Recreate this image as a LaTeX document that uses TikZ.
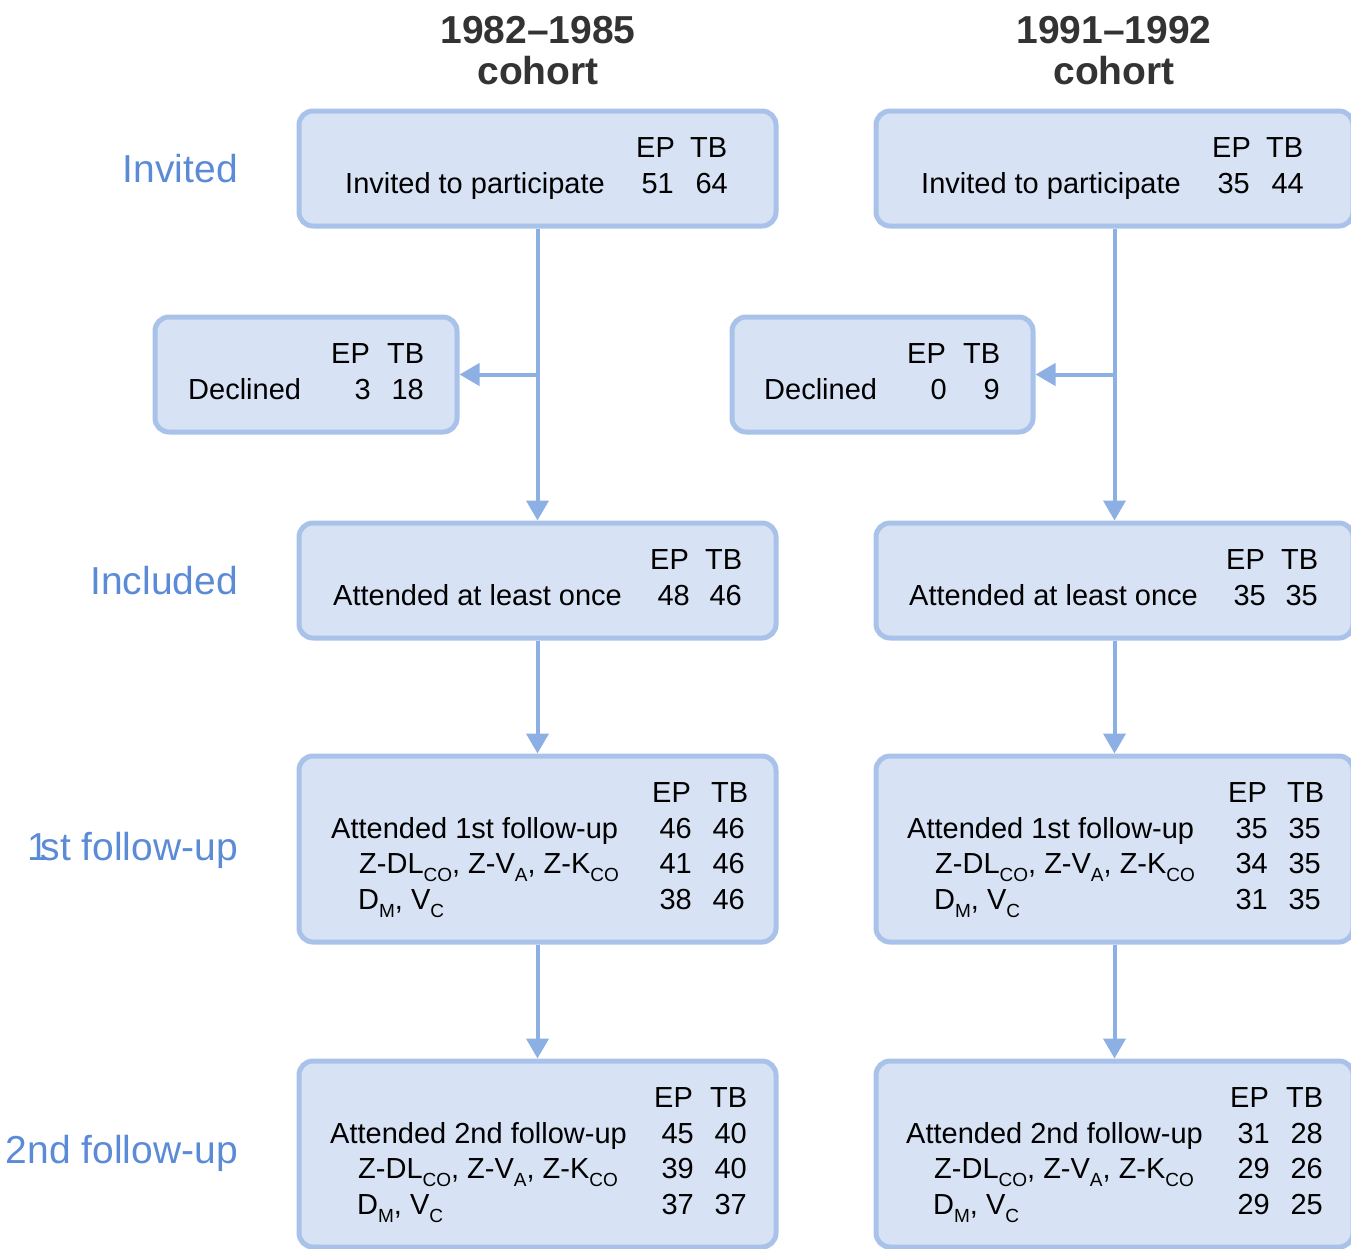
\documentclass[tikz,border=0pt]{standalone}
\usepackage{fontspec}
\setmainfont{Liberation Sans}
\usetikzlibrary{arrows.meta}
\definecolor{boxfill}{HTML}{D7E2F4}
\definecolor{boxline}{HTML}{A9C2E9}
\definecolor{arrcol}{HTML}{8DB0E4}
\definecolor{lblcol}{HTML}{5B8BD7}
\definecolor{ttlcol}{HTML}{333333}
\newcommand{\sbs}[1]{\raisebox{-8pt}{\fontsize{19}{19}\selectfont #1}}
\newcommand{\zrow}{Z-DL\sbs{CO}, Z-V\sbs{A}, Z-K\sbs{CO}}
\newcommand{\drow}{D\sbs{M}, V\sbs{C}}
\begin{document}
\begin{tikzpicture}[x=1pt,y=-1pt,
 box/.style={draw=boxline, fill=boxfill, line width=5pt, rounded corners=14pt, inner sep=0pt},
 arr/.style={draw=arrcol, line width=4pt, -{Triangle[length=20pt,width=22pt]}},
 txt/.style={font=\fontsize{29}{34}\selectfont, inner sep=0pt, text=black},
 tl/.style={txt, anchor=base west},
 tr/.style={txt, anchor=base east},
 lbl/.style={font=\fontsize{39}{46}\selectfont, text=lblcol, inner sep=0pt, anchor=base east},
 ttl/.style={font=\bfseries\fontsize{39}{46}\selectfont, text=ttlcol, inner sep=0pt, anchor=base},
 ]
\useasboundingbox (0,0) rectangle (1351,1248);

% titles
\node[ttl] (t1a) at (538,43) {1982--1985};
\node[ttl] (t1b) at (538,84) {cohort};
\node[ttl] (t2a) at (1114,43) {1991--1992};
\node[ttl] (t2b) at (1114,84) {cohort};

% side labels
\node[lbl] (l1) at (238,182) {Invited};
\node[lbl] (l2) at (238,594) {Included};
\node[lbl] (l3) at (238,860) {1\kern-9pt st follow-up};
\node[lbl] (l4) at (238,1163) {2nd follow-up};

% boxes
\node[box, minimum width=477pt, minimum height=115pt] (inv1) at (537.5,168.5) {};
\node[box, minimum width=477pt, minimum height=115pt] (inv2) at (1114.5,168.5) {};
\node[box, minimum width=302pt, minimum height=115pt] (dec1) at (306,374.5) {};
\node[box, minimum width=301pt, minimum height=115pt] (dec2) at (882.5,374.5) {};
\node[box, minimum width=477pt, minimum height=115pt] (inc1) at (537.5,580.5) {};
\node[box, minimum width=477pt, minimum height=115pt] (inc2) at (1114.5,580.5) {};
\node[box, minimum width=477pt, minimum height=186pt] (fu1) at (537.5,849) {};
\node[box, minimum width=477pt, minimum height=186pt] (fu2) at (1114.5,849) {};
\node[box, minimum width=477pt, minimum height=186pt] (sf1) at (537.5,1154) {};
\node[box, minimum width=477pt, minimum height=186pt] (sf2) at (1114.5,1154) {};

% connectors
\draw[arr] (inv1.south) -- (inc1.north);
\draw[arr] (inv2.south) -- (inc2.north);
\draw[arr] (inv1.south |- dec1.east) -- (dec1.east);
\draw[arr] (inv2.south |- dec2.east) -- (dec2.east);
\draw[arr] (inc1.south) -- (fu1.north);
\draw[arr] (inc2.south) -- (fu2.north);
\draw[arr] (fu1.south) -- (sf1.north);
\draw[arr] (fu2.south) -- (sf2.north);

% invited left
\node[tl] (a1) at (636,157) {EP};
\node[tl] (a2) at (690,157) {TB};
\node[tl] (a3) at (345,193) {Invited to participate};
\node[tr] (a4) at (674,193) {51};
\node[tr] (a5) at (728,193) {64};
% invited right
\node[tl] (b1) at (1212,157) {EP};
\node[tl] (b2) at (1266,157) {TB};
\node[tl] (b3) at (921,193) {Invited to participate};
\node[tr] (b4) at (1250,193) {35};
\node[tr] (b5) at (1304,193) {44};

% declined left
\node[tl] (c1) at (331,363) {EP};
\node[tl] (c2) at (387,363) {TB};
\node[tl] (c3) at (188,399) {Declined};
\node[tr] (c4) at (371,399) {3};
\node[tr] (c5) at (424,399) {18};
% declined right
\node[tl] (d1) at (907,363) {EP};
\node[tl] (d2) at (963,363) {TB};
\node[tl] (d3) at (764,399) {Declined};
\node[tr] (d4) at (947,399) {0};
\node[tr] (d5) at (1000,399) {9};

% included left
\node[tl] (e1) at (650,569) {EP};
\node[tl] (e2) at (705,569) {TB};
\node[tl] (e3) at (333,605) {Attended at least once};
\node[tr] (e4) at (690,605) {48};
\node[tr] (e5) at (742,605) {46};
% included right
\node[tl] (f1) at (1226,569) {EP};
\node[tl] (f2) at (1281,569) {TB};
\node[tl] (f3) at (909,605) {Attended at least once};
\node[tr] (f4) at (1266,605) {35};
\node[tr] (f5) at (1318,605) {35};

% 1st follow-up left
\node[tl] (g1) at (652,802) {EP};
\node[tl] (g2) at (711,802) {TB};
\node[tl] (g3) at (331,838) {Attended 1st follow-up};
\node[tr] (g4) at (692,838) {46};
\node[tr] (g5) at (745,838) {46};
\node[tl] (g6) at (359,873.5) {\zrow};
\node[tr] (g7) at (692,873.5) {41};
\node[tr] (g8) at (745,873.5) {46};
\node[tl] (g9) at (358,909) {\drow};
\node[tr] (g10) at (692,909) {38};
\node[tr] (g11) at (745,909) {46};
% 1st follow-up right
\node[tl] (h1) at (1228,802) {EP};
\node[tl] (h2) at (1287,802) {TB};
\node[tl] (h3) at (907,838) {Attended 1st follow-up};
\node[tr] (h4) at (1268,838) {35};
\node[tr] (h5) at (1321,838) {35};
\node[tl] (h6) at (935,873.5) {\zrow};
\node[tr] (h7) at (1268,873.5) {34};
\node[tr] (h8) at (1321,873.5) {35};
\node[tl] (h9) at (934,909) {\drow};
\node[tr] (h10) at (1268,909) {31};
\node[tr] (h11) at (1321,909) {35};

% 2nd follow-up left
\node[tl] (i1) at (654,1107) {EP};
\node[tl] (i2) at (710,1107) {TB};
\node[tl] (i3) at (330,1143) {Attended 2nd follow-up};
\node[tr] (i4) at (694,1143) {45};
\node[tr] (i5) at (747,1143) {40};
\node[tl] (i6) at (358,1178.5) {\zrow};
\node[tr] (i7) at (694,1178.5) {39};
\node[tr] (i8) at (747,1178.5) {40};
\node[tl] (i9) at (357,1214) {\drow};
\node[tr] (i10) at (694,1214) {37};
\node[tr] (i11) at (747,1214) {37};
% 2nd follow-up right
\node[tl] (j1) at (1230,1107) {EP};
\node[tl] (j2) at (1286,1107) {TB};
\node[tl] (j3) at (906,1143) {Attended 2nd follow-up};
\node[tr] (j4) at (1270,1143) {31};
\node[tr] (j5) at (1323,1143) {28};
\node[tl] (j6) at (934,1178.5) {\zrow};
\node[tr] (j7) at (1270,1178.5) {29};
\node[tr] (j8) at (1323,1178.5) {26};
\node[tl] (j9) at (933,1214) {\drow};
\node[tr] (j10) at (1270,1214) {29};
\node[tr] (j11) at (1323,1214) {25};
\end{tikzpicture}
\end{document}
